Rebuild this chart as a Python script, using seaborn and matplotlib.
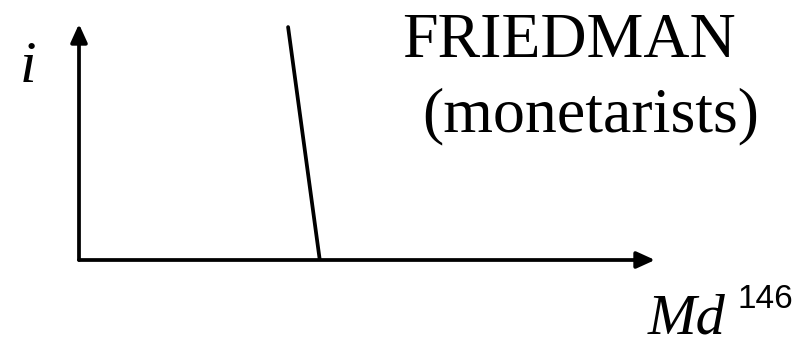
import matplotlib
matplotlib.use("Agg")
import matplotlib.pyplot as plt
import seaborn as sns

# money demand curve (Friedman: almost vertical), axis units 0..10
md_quantity = [3.63, 4.18]
md_interest = [9.87, 0.0]

title_lines = ["FRIEDMAN", "(monetarists)"]
y_label = "i"
x_label = "Md"
page_no = "146"

sns.set_style("white")
plt.rcParams["text.color"] = "black"

fig = plt.figure(figsize=(8.09, 3.44), dpi=100)
# axes box = the drawn coordinate system (origin bottom-left)
ax = fig.add_axes([79 / 809, 84 / 344, 576 / 809, 236 / 344])
ax.set_xlim(0, 10)
ax.set_ylim(0, 10)
ax.axis("off")

sns.lineplot(x=md_quantity, y=md_interest, ax=ax, color="black", linewidth=2.7, sort=False)

arrow = dict(arrowstyle="-|>,head_length=1.1,head_width=0.5", color="black",
             lw=2.7, shrinkA=0, shrinkB=0, mutation_scale=10)
ax.annotate("", xy=(10, 0), xytext=(0, 0), arrowprops=arrow, annotation_clip=False)
ax.annotate("", xy=(0, 10), xytext=(0, 0), arrowprops=arrow, annotation_clip=False)

serif = ["Liberation Serif", "DejaVu Serif"]
fig.text(402 / 809, 1 - 57 / 344, title_lines[0], family=serif, fontsize=46, va="baseline", color="black")
fig.text(422 / 809, 1 - 131 / 344, title_lines[1], family=serif, fontsize=46, va="baseline", color="black")
fig.text(20 / 809, 1 - 82 / 344, y_label, family=serif, style="italic", fontsize=43, va="baseline", color="black")
fig.text(648 / 809, 1 - 333 / 344, x_label, family=serif, style="italic", fontsize=42, va="baseline", color="black")
fig.text(738 / 809, 1 - 308 / 344, page_no, family=["Liberation Sans", "DejaVu Sans"], fontsize=24, va="baseline", color="black")

fig.savefig("out.png", dpi=100)
